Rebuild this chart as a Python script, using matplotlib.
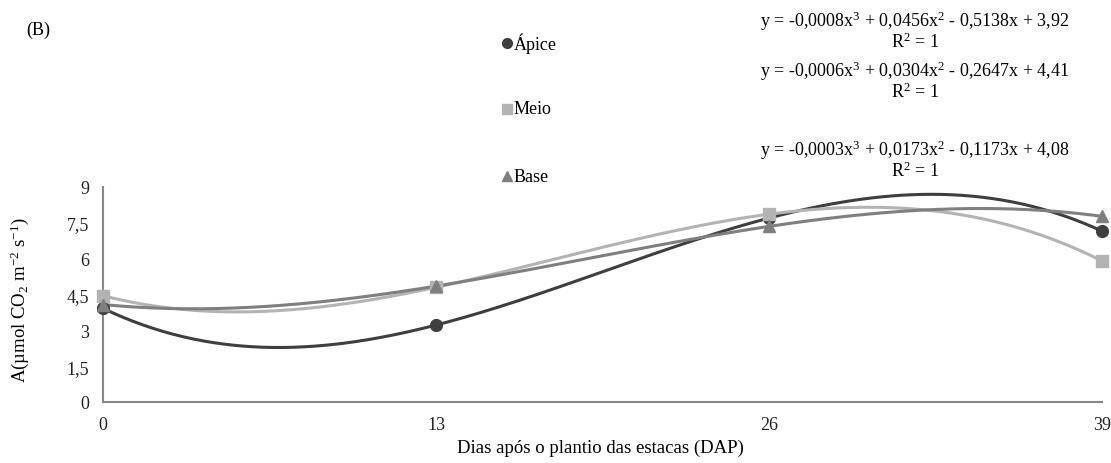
import numpy as np
import matplotlib
matplotlib.use("Agg")
import matplotlib.pyplot as plt

plt.rcParams['font.family'] = ['Liberation Serif', 'DejaVu Serif']
plt.rcParams['mathtext.fontset'] = 'custom'
plt.rcParams['mathtext.rm'] = 'Liberation Serif'
plt.rcParams['mathtext.it'] = 'Liberation Serif:italic'
plt.rcParams['mathtext.default'] = 'regular'

dias = [0, 13, 26, 39]
apice = [3.92, 3.22, 7.70, 7.15]
meio = [4.45, 4.80, 7.86, 5.90]
base = [4.08, 4.85, 7.35, 7.77]
series_names = ["Ápice", "Meio", "Base"]
equations = ["y = -0,0008x$^{3}$ + 0,0456x$^{2}$ - 0,5138x + 3,92",
             "y = -0,0006x$^{3}$ + 0,0304x$^{2}$ - 0,2647x + 4,41",
             "y = -0,0003x$^{3}$ + 0,0173x$^{2}$ - 0,1173x + 4,08"]
yticks = [0, 1.5, 3, 4.5, 6, 7.5, 9]
ytick_labels = ["0", "1,5", "3", "4,5", "6", "7,5", "9"]

colors = ["#3f3f3f", "#b3b3b3", "#7f7f7f"]
markers = ["o", "s", "^"]

fig = plt.figure(figsize=(11.11, 4.64), dpi=100)
ax = fig.add_axes([0.0927, 0.1315, 0.8993, 0.4634])

xs = np.linspace(0, 39, 300)
for vals, col, mk in zip([apice, meio, base], colors, markers):
    coef = np.polyfit(dias, vals, 3)
    ax.plot(xs, np.polyval(coef, xs), color=col, lw=2.2, clip_on=False, zorder=2)
    ax.plot(dias, vals, linestyle='none', marker=mk, color=col, ms=8.5, clip_on=False, zorder=3)

ax.set_xlim(0, 39)
ax.set_ylim(0, 9)
ax.set_xticks(dias)
ax.set_xticklabels([str(d) for d in dias])
ax.set_yticks(yticks)
ax.set_yticklabels(ytick_labels)
ax.tick_params(length=0, labelsize=13, colors='#222222', pad=10)
for s in ['top', 'right']:
    ax.spines[s].set_visible(False)
for s in ['left', 'bottom']:
    ax.spines[s].set_color('#888888')
    ax.spines[s].set_linewidth(1.5)

fig.text(600/1111, 1-448/464, "Dias após o plantio das estacas (DAP)", ha='center', va='center', fontsize=13.5)
fig.text(20/1111, 1-300/464, "A(µmol CO$_{2}$ m$^{-2}$ s$^{-1}$)", ha='center', va='center',
         rotation=90, fontsize=13.5)
fig.text(38/1111, 1-30/464, "(B)", ha='center', va='center', fontsize=13)

# legend
leg_y = [44, 110, 177]
for name, col, mk, yy in zip(series_names, colors, markers, leg_y):
    fig.lines.append(plt.Line2D([507/1111], [1-yy/464], marker=mk, color=col, ms=7,
                                linestyle='none', transform=fig.transFigure))
    fig.text(514/1111, 1-yy/464, name, ha='left', va='center', fontsize=13)

eq_y = [21, 71, 150]
for eq, yy in zip(equations, eq_y):
    fig.text(915/1111, 1-yy/464, eq, ha='center', va='center', fontsize=13)
    fig.text(915/1111, 1-(yy+21)/464, "R$^{2}$ = 1", ha='center', va='center', fontsize=13)

fig.savefig("out.png", dpi=100)
